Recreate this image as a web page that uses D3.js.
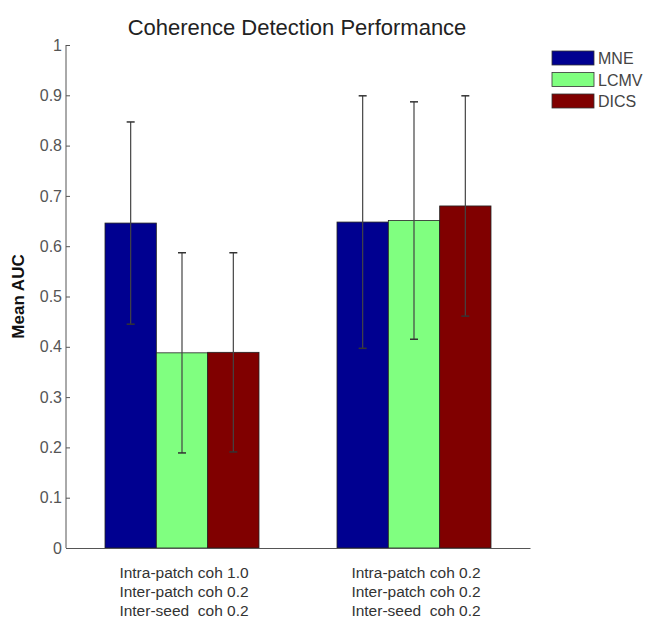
<!DOCTYPE html>
<html>
<head>
<meta charset="utf-8">
<script src="https://cdn.jsdelivr.net/npm/d3@7"></script>
<style>
  body { margin: 0; background: #fff; }
  text { font-family: "Liberation Sans", Arial, sans-serif; }
</style>
</head>
<body>
<svg id="chart" width="647" height="618"></svg>
<script>
var groups = ["g1", "g2"]
var groupLabels = [
  ["Intra-patch coh 1.0", "Inter-patch coh 0.2", "Inter-seed  coh 0.2"],
  ["Intra-patch coh 0.2", "Inter-patch coh 0.2", "Inter-seed  coh 0.2"]
]
var series = ["MNE", "LCMV", "DICS"]
var colors = ["#000090", "#80ff80", "#800000"]
var mneMean = [0.646, 0.648]
var lcmvMean = [0.388, 0.651]
var dicsMean = [0.389, 0.680]
var mneErr = [0.201, 0.251]
var lcmvErr = [0.199, 0.236]
var dicsErr = [0.198, 0.219]
var yTicks = [0, 0.1, 0.2, 0.3, 0.4, 0.5, 0.6, 0.7, 0.8, 0.9, 1]

var means = [mneMean, lcmvMean, dicsMean]
var errs = [mneErr, lcmvErr, dicsErr]

var svg = d3.select("#chart")

var x = d3.scaleBand().domain(groups).range([66, 530]).padding(0)
var xs = d3.scaleBand().domain(series).range([0, 154])
var y = d3.scaleLinear().domain([0, 1]).range([548, 45])

var bars = []
groups.forEach(function(g, gi){
  series.forEach(function(s, si){
    bars.push({g: g, s: s, c: colors[si], v: means[si][gi], e: errs[si][gi]})
  })
})

var off = (x.bandwidth() - 154) / 2

svg.selectAll("rect.bar")
  .data(bars)
  .enter()
  .append("rect")
  .attr("class", "bar")
  .attr("x", function(d){ return x(d.g) + off + xs(d.s) })
  .attr("y", function(d){ return y(d.v) })
  .attr("width", xs.bandwidth())
  .attr("height", function(d){ return y(0) - y(d.v) })
  .style("fill", function(d){ return d.c })
  .style("stroke", "#222")
  .style("stroke-width", 0.8)

// error bars
var eb = svg.selectAll("g.err")
  .data(bars)
  .enter()
  .append("g")
  .attr("class", "err")
  .attr("transform", function(d){
    return "translate(" + (x(d.g) + off + xs(d.s) + xs.bandwidth() / 2) + ",0)"
  })
eb.append("line")
  .attr("x1", 0).attr("x2", 0)
  .attr("y1", function(d){ return y(d.v - d.e) })
  .attr("y2", function(d){ return y(d.v + d.e) })
  .style("stroke", "#444").style("stroke-width", 1.2)
eb.append("line")
  .attr("x1", -4).attr("x2", 4)
  .attr("y1", function(d){ return y(d.v + d.e) })
  .attr("y2", function(d){ return y(d.v + d.e) })
  .style("stroke", "#333").style("stroke-width", 1.5)
eb.append("line")
  .attr("x1", -4).attr("x2", 4)
  .attr("y1", function(d){ return y(d.v - d.e) })
  .attr("y2", function(d){ return y(d.v - d.e) })
  .style("stroke", "#333").style("stroke-width", 1.5)

// y axis
var yAxis = svg.append("g")
  .attr("transform", "translate(66,0)")
  .call(d3.axisLeft(y).tickValues(yTicks).tickSize(-4).tickPadding(4)
    .tickFormat(function(d){ return d3.format("~g")(d) }))
yAxis.select(".domain").attr("d", "M0," + y(1) + "V" + y(0)).style("stroke", "#555")
yAxis.selectAll(".tick line").style("stroke", "#555")
yAxis.selectAll(".tick text").style("fill", "#555").style("font-size", "16px")
  .style("font-family", "'Liberation Sans', Arial, sans-serif")

// x axis
var xAxis = svg.append("g")
  .attr("transform", "translate(0," + y(0) + ")")
  .call(d3.axisBottom(x).tickSize(0).tickFormat(""))
xAxis.select(".domain").style("stroke", "#555")

var lbl = svg.selectAll("text.xl")
  .data(groups)
  .enter()
  .append("text")
  .attr("class", "xl")
  .attr("text-anchor", "middle")
  .style("font-size", "15.5px")
  .style("fill", "#333")
lbl.selectAll("tspan")
  .data(function(d, i){ return groupLabels[i] })
  .enter()
  .append("tspan")
  .attr("x", function(){ return x(d3.select(this.parentNode).datum()) + x.bandwidth() / 2 + 2 })
  .attr("y", function(d, i){ return 578 + i * 19 })
  .attr("xml:space", "preserve")
  .style("white-space", "pre")
  .text(function(d){ return d })

// title
svg.append("text")
  .attr("x", 297)
  .attr("y", 35)
  .attr("text-anchor", "middle")
  .style("font-size", "22px")
  .style("fill", "#222")
  .text("Coherence Detection Performance")

// y label
svg.append("text")
  .attr("transform", "translate(24," + ((y(0) + y(1)) / 2) + ") rotate(-90)")
  .attr("text-anchor", "middle")
  .style("font-size", "17px")
  .style("font-weight", "bold")
  .style("fill", "#111")
  .text("Mean AUC")

// legend
var leg = svg.selectAll("g.leg")
  .data(series)
  .enter()
  .append("g")
  .attr("class", "leg")
  .attr("transform", function(d, i){ return "translate(552," + (51 + i * 21.5) + ")" })
leg.append("rect")
  .attr("width", 42).attr("height", 14)
  .style("fill", function(d, i){ return colors[i] })
  .style("stroke", "#333").style("stroke-width", 0.8)
leg.append("text")
  .attr("x", 46).attr("y", 13)
  .style("font-size", "16px")
  .style("fill", "#444")
  .text(function(d){ return d })
</script>
</body>
</html>
